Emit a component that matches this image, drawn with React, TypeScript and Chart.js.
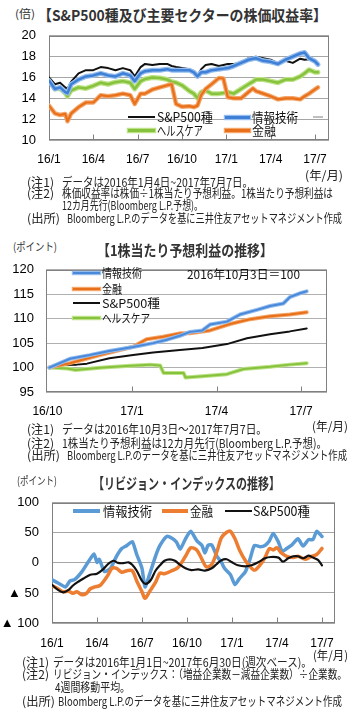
import React, { useEffect, useLayoutEffect, useRef } from "react";
import { Chart, registerables } from "chart.js";

Chart.register(...registerables);

const JP = "'Noto Sans CJK JP', 'Noto Sans', sans-serif";
const NUM = "'Liberation Sans', Arial, sans-serif";

// ---------- Chart 1: PER (倍) ----------
const perMonths = [0, 0.4, 0.75, 1.1, 1.25, 1.5, 2, 2.5, 3, 3.5, 4, 4.5, 5, 5.5, 5.8, 6.2, 6.5, 7, 7.5, 8, 8.3, 8.6, 9, 9.5, 9.8, 10.05, 10.3, 10.6, 11, 11.5, 11.8, 12.1, 12.5, 13, 13.5, 13.8, 14, 14.5, 15, 15.5, 16, 16.5, 17, 17.3, 17.6, 18, 18.2];
const perSP500 = [16.0, 15.35, 15.5, 15.05, 14.9, 15.6, 16.4, 16.7, 16.7, 17.0, 16.9, 16.7, 16.9, 16.7, 16.1, 17.0, 17.3, 17.2, 17.3, 17.3, 17.1, 17.0, 16.9, 16.8, 16.6, 16.2, 16.8, 17.2, 17.3, 17.1, 17.2, 17.3, 17.3, 17.4, 17.85, 17.95, 18.0, 17.85, 17.7, 17.35, 17.6, 17.4, 17.8, 17.7, 17.75, 17.55, 17.4];
const perTech = [15.7, 14.9, 15.05, 14.6, 14.5, 15.35, 15.8, 16.1, 16.2, 16.4, 16.2, 16.1, 16.4, 16.2, 15.65, 16.4, 16.6, 16.7, 16.7, 16.8, 16.7, 16.7, 16.7, 16.7, 16.5, 16.1, 16.5, 16.5, 16.7, 16.8, 16.85, 16.9, 17.1, 17.4, 17.7, 17.8, 17.85, 17.6, 17.5, 17.3, 17.7, 18.0, 18.3, 18.4, 17.85, 17.55, 17.25];
const perHealth = [15.8, 14.9, 14.95, 14.5, 14.2, 14.75, 15.05, 14.95, 15.2, 15.5, 15.35, 15.55, 15.65, 15.5, 14.9, 15.65, 15.85, 16.0, 15.95, 15.8, 15.6, 15.5, 15.25, 14.7, 14.45, 14.0, 14.6, 14.75, 14.45, 14.45, 14.5, 14.6, 14.45, 14.9, 15.35, 15.6, 15.8, 15.8, 15.65, 15.5, 15.8, 15.8, 16.1, 16.4, 16.75, 16.5, 16.5];
const perFin = [13.3, 12.55, 12.4, 12.5, 11.8, 12.55, 13.15, 13.6, 13.6, 14.3, 14.2, 14.3, 14.45, 14.3, 13.45, 14.45, 14.45, 14.85, 15.05, 15.25, 15.35, 13.45, 13.2, 13.25, 13.15, 13.3, 14.3, 14.9, 15.35, 15.95, 15.9, 14.1, 14.0, 14.0, 14.6, 14.95, 14.7, 14.45, 14.2, 13.9, 14.0, 14.0, 13.9, 14.2, 14.45, 14.85, 15.05];
const perTicks = [0, 3, 6, 9, 12, 15, 18];
const perTickLabels = ["16/1", "16/4", "16/7", "16/10", "17/1", "17/4", "17/7"];

// ---------- Chart 2: EPS index (2016/10/3 = 100) ----------
const epsTechT = [0.07, 0.8, 1.5, 2.2, 3.04, 3.75, 4.24, 4.7, 5.06, 5.5, 5.77, 6.37, 6.83, 7.43, 7.9, 8.37, 8.6, 8.96, 9.2];
const epsTech = [100, 101.8, 102.55, 103.4, 104.2, 105.0, 105.7, 106.5, 107.3, 107.6, 108.8, 109.4, 110.85, 111.8, 112.6, 113.1, 114.4, 115.2, 115.6];
const epsFinT = [0.07, 0.8, 1.15, 1.86, 2.57, 3.04, 3.52, 4.1, 4.7, 5.06, 5.77, 6.48, 7.2, 7.9, 8.6, 9.2];
const epsFin = [100, 100.9, 101.45, 102.55, 103.6, 104.25, 105.8, 106.3, 107.0, 107.0, 107.6, 108.9, 109.9, 110.5, 110.85, 111.3];
const epsSPT = [0.07, 0.5, 1.04, 1.4, 2.2, 3.04, 3.75, 4.7, 5.5, 6.37, 7.08, 7.9, 8.6, 9.2];
const epsSP = [100, 100.5, 100.6, 100.8, 101.9, 102.55, 103.1, 103.6, 104.0, 104.8, 106.0, 106.8, 107.4, 108.0];
const epsHealthT = [0.07, 0.7, 1.0, 1.86, 2.8, 3.64, 4.0, 4.12, 4.83, 4.9, 5.5, 6.37, 6.96, 7.9, 8.6, 9.2];
const epsHealth = [100, 99.8, 99.5, 99.95, 100.3, 100.6, 100.4, 98.9, 98.9, 97.95, 98.2, 98.65, 99.7, 100.15, 100.6, 100.9];
const epsTicks = [0, 3, 6, 9];
const epsTickLabels = ["16/10", "17/1", "17/4", "17/7"];

// ---------- Chart 3: Revision index ----------
const revTechT = [0, 0.4, 0.9, 1.2, 1.5, 2.0, 2.4, 2.8, 3.0, 3.15, 3.5, 3.9, 4.3, 4.65, 5.0, 5.35, 5.65, 6.0, 6.2, 6.5, 6.9, 7.2, 7.65, 8.0, 8.3, 8.55, 8.9, 9.25, 9.65, 10.0, 10.2, 10.4, 10.65, 11.0, 11.3, 11.5, 11.9, 12.2, 12.5, 12.9, 13.2, 13.5, 13.9, 14.2, 14.5, 14.75, 15.1, 15.35, 15.65, 16.0, 16.4, 16.75, 17.1, 17.4, 17.65, 18.0];
const revTech = [-28, -33.5, -40, -30, -28, -14.4, 1, 15, 1, 6, -14.4, -9, 11, 24, 29, 35.5, 14, -9, -40, -19.6, 11, 29, 44, 41, 34.5, 23, 40, 52.6, 37, 29, 16.5, 29, 30, 11, 1, -9, -19.6, -36, -26, -14.4, 6, 29, 27, 29, 37, 49, 34.5, 19, 24, 30, 40, 28, 38.7, 38.7, 52.6, 44];
const revFinT = [0, 0.4, 0.75, 1.1, 1.4, 1.65, 2.0, 2.3, 2.55, 2.85, 3.2, 3.55, 3.75, 4.0, 4.3, 4.65, 5.0, 5.35, 5.65, 6.0, 6.2, 6.5, 6.9, 7.2, 7.5, 8.0, 8.4, 8.9, 9.25, 9.65, 10.0, 10.3, 10.65, 11.0, 11.3, 11.65, 11.9, 12.2, 12.5, 12.9, 13.2, 13.5, 13.9, 14.2, 14.5, 14.75, 15.0, 15.3, 15.65, 16.1, 16.4, 16.9, 17.3, 17.65, 18.0];
const revFin = [-37.6, -43, -48, -47, -50.5, -48, -53, -50.5, -43, -40, -37.6, -27, -19.6, -9, -9, -15.5, -13, -13, -30, -48, -59, -48, -32.5, -17, -18, -13, -7.7, 11, 25, 21.6, 6, -6.7, -2.6, 19, 42, 51, 52.6, 40, 21.6, 3.6, -5.7, -12, -2.6, 8.8, 24, 21.6, 25, 16.5, 11, 8.8, 11, 6, 11, 14, 24];
const revSPT = [0, 0.4, 0.75, 1.1, 1.4, 1.75, 2.1, 2.55, 3.0, 3.4, 3.75, 4.1, 4.4, 4.75, 5.1, 5.35, 5.65, 6.0, 6.25, 6.6, 6.9, 7.2, 7.5, 7.85, 8.2, 8.5, 8.9, 9.3, 9.75, 10.2, 10.65, 11.0, 11.3, 11.65, 12.0, 12.4, 12.9, 13.3, 13.75, 14.2, 14.6, 15.1, 15.4, 15.75, 16.1, 16.4, 16.75, 17.1, 17.4, 17.75, 18.0];
const revSP = [-36.6, -45, -49, -45, -37.6, -31.4, -26, -19.6, -18, -10.8, -1.5, 3.6, 0, -0.5, 1, -3, -13, -30, -35, -28, -13, -4, 3.6, 6, 3.6, -2.6, -9, -12, -10.8, -13, -9, -1.5, 4.6, 6, 1, -4, -5.7, -4, 1, 7.7, 9.8, 8.8, 2, 7.7, 11, 11, 7.7, 12, 8.8, 4.6, -4];
const revTicks = [0, 3, 6, 9, 12, 15, 18];
const revTickLabels = ["16/1", "16/4", "16/7", "16/10", "17/1", "17/4", "17/7"];

type Series = { xs: number[]; ys: number[]; color: string; width: number; glow?: string; glowWidth?: number; tension?: number };
type Box = { x: number; y: number; w: number; h: number };
type Plot = { x1: number; y1: number; x2: number; y2: number };

function LineChart(props: {
  box: Box; plot: Plot; xMin: number; xMax: number; xTicks: number[]; xLabels: string[];
  yMin: number; yMax: number; yStep: number; yFmt: (v: number) => string;
  series: Series[]; xPad: number; yPad: number; gridColor: string;
}) {
  const ref = useRef<HTMLCanvasElement>(null);
  useEffect(() => {
    const p = props;
    const datasets: any[] = [];
    p.series.forEach((s) => {
      const data = s.xs.map((x, i) => ({ x, y: s.ys[i] }));
      datasets.push({ data, borderColor: s.color, borderWidth: s.width, pointRadius: 0, fill: false, tension: s.tension || 0, borderJoinStyle: "round", borderCapStyle: "round" });
      if (s.glow) datasets.push({ data, borderColor: s.glow, borderWidth: s.glowWidth, pointRadius: 0, fill: false, tension: s.tension || 0, borderJoinStyle: "round", borderCapStyle: "round" });
    });
    const yTickVals: number[] = [];
    for (let v = p.yMin; v <= p.yMax + 1e-9; v += p.yStep) yTickVals.push(v);
    const frame = {
      id: "frame",
      beforeDatasetsDraw(ch: any) {
        const { ctx, chartArea: a, scales } = ch;
        ctx.save();
        ctx.strokeStyle = "#808080";
        ctx.lineWidth = 1;
        const l = Math.round(a.left) + 0.5, t = Math.round(a.top) + 0.5;
        const r = Math.round(a.right) - 0.5, b = Math.round(a.bottom) - 0.5;
        ctx.strokeRect(l, t, r - l, b - t);
        ctx.beginPath();
        for (const v of p.xTicks) {
          const px = Math.round(scales.x.getPixelForValue(v)) + 0.5;
          if (px < a.left + 3 || px > a.right - 3) continue;
          ctx.moveTo(px, b);
          ctx.lineTo(px, b - 5);
        }
        ctx.stroke();
        ctx.restore();
      },
    };
    const chart = new Chart(ref.current as HTMLCanvasElement, {
      type: "line",
      data: { datasets },
      options: {
        animation: false,
        responsive: false,
        devicePixelRatio: 1,
        events: [],
        layout: { padding: { left: 0, top: p.plot.y1 - p.box.y, right: p.box.x + p.box.w - p.plot.x2, bottom: 0 } },
        plugins: { legend: { display: false }, tooltip: { enabled: false } },
        scales: {
          x: {
            type: "linear", min: p.xMin, max: p.xMax,
            afterBuildTicks: (s: any) => { s.ticks = p.xTicks.map((v) => ({ value: v })); },
            afterFit: (s: any) => { s.height = p.box.y + p.box.h - p.plot.y2; },
            grid: { display: false, drawTicks: false },
            border: { display: false },
            ticks: { autoSkip: false, maxRotation: 0, minRotation: 0, padding: p.xPad, color: "#000", font: { family: NUM, size: 12 }, callback: (_v: any, i: number) => p.xLabels[i] },
          },
          y: {
            type: "linear", min: p.yMin, max: p.yMax,
            afterBuildTicks: (s: any) => { s.ticks = yTickVals.map((v) => ({ value: v })); },
            afterFit: (s: any) => { s.width = p.plot.x1 - p.box.x; },
            grid: { color: p.gridColor, drawTicks: false, lineWidth: 1 },
            border: { display: false },
            ticks: { padding: p.yPad, color: "#000", font: { family: NUM, size: 13 }, callback: (v: any) => p.yFmt(Number(v)) },
          },
        },
      } as any,
      plugins: [frame],
    });
    return () => chart.destroy();
  }, []);
  const b = props.box;
  return <canvas ref={ref} width={b.w} height={b.h} style={{ position: "absolute", left: b.x, top: b.y, width: b.w, height: b.h }} />;
}

function FitText(props: { x: number; y: number; w?: number; text: string; size?: number; bold?: boolean; color?: string; family?: string }) {
  const { x, y, w, text, size = 12, bold = false, color = "#222", family = JP } = props;
  const ref = useRef<HTMLSpanElement>(null);
  useLayoutEffect(() => {
    const fit = () => {
      const el = ref.current;
      if (!el || !w) return;
      el.style.transform = "none";
      const nat = el.getBoundingClientRect().width;
      if (nat > 0) el.style.transform = `scaleX(${w / nat})`;
    };
    fit();
    if ((document as any).fonts && (document as any).fonts.ready) (document as any).fonts.ready.then(fit);
  }, [text, w, size]);
  return (
    <span ref={ref} style={{ position: "absolute", left: x, top: y - size * 0.6, fontSize: size, lineHeight: `${size * 1.2}px`, whiteSpace: "nowrap", transformOrigin: "0 0", fontWeight: bold ? 700 : 400, color, fontFamily: family }}>
      {text}
    </span>
  );
}

function LegLine(props: { x1: number; x2: number; y: number; color: string; width: number; glow?: string }) {
  const { x1, x2, y, color, width, glow } = props;
  return <div style={{ position: "absolute", left: x1, top: y - width / 2, width: x2 - x1, height: width, background: color, boxShadow: glow ? `0 0 0 1.2px ${glow}` : undefined }} />;
}

const BLUE1 = "#3F7FD6", BLUE1G = "#93BDEE";
const GREEN1 = "#86C23E", GREEN1G = "#BBE283";
const ORANGE1 = "#E8701A", ORANGE1G = "#F4A66B";

export default function App() {
  return (
    <div style={{ position: "absolute", left: 0, top: 0, width: 359, height: 712, background: "#fff", overflow: "hidden", fontFamily: JP }}>
      {/* ---------- Chart 1 ---------- */}
      <FitText x={15} y={14} w={20} text="(倍)" size={11} color="#333" />
      <FitText x={38} y={15} w={289} text="【S&P500種及び主要セクターの株価収益率】" size={15} bold color="#333" />
      <LineChart
        box={{ x: 0, y: 15, w: 359, h: 160 }}
        plot={{ x1: 49, y1: 27, x2: 329, y2: 140 }}
        xMin={0} xMax={18.95} xTicks={perTicks} xLabels={perTickLabels}
        yMin={10} yMax={20} yStep={2} yFmt={(v) => String(v)}
        xPad={12} yPad={13} gridColor="#A6A6A6"
        series={[
          { xs: perMonths, ys: perTech, color: BLUE1, width: 2.5, glow: BLUE1G, glowWidth: 5 },
          { xs: perMonths, ys: perSP500, color: "#111", width: 2 },
          { xs: perMonths, ys: perFin, color: ORANGE1, width: 2.2, glow: ORANGE1G, glowWidth: 4.5 },
          { xs: perMonths, ys: perHealth, color: GREEN1, width: 2.5, glow: GREEN1G, glowWidth: 5 },
        ]}
      />
      <LegLine x1={128} x2={155} y={117} color="#111" width={2} />
      <FitText x={157} y={117} w={56} text="S&P500種" size={13} color="#111" />
      <LegLine x1={225} x2={250} y={117} color={BLUE1} width={3} glow={BLUE1G} />
      <FitText x={252} y={117} w={46} text="情報技術" size={13} color="#111" />
      <LegLine x1={313} x2={323} y={117} color="#BFBFBF" width={1.5} />
      <LegLine x1={128} x2={155} y={130} color={GREEN1} width={3} glow={GREEN1G} />
      <FitText x={157} y={130} w={46} text="ヘルスケア" size={13} color="#111" />
      <LegLine x1={225} x2={250} y={130} color={ORANGE1} width={3} glow={ORANGE1G} />
      <FitText x={252} y={130} w={24} text="金融" size={13} color="#111" />
      <FitText x={305} y={175} w={38} text="(年/月)" size={12} color="#222" />
      <FitText x={27} y={182} w={27} text="(注1)" size={12} />
      <FitText x={62} y={182} w={191} text="データは2016年1月4日~2017年7月7日。" size={12} />
      <FitText x={27} y={193} w={27} text="(注2)" size={12} />
      <FitText x={62} y={193} w={271} text="株価収益率は株価÷1株当たり予想利益。1株当たり予想利益は" size={12} />
      <FitText x={62} y={205} w={141} text="12カ月先行(Bloomberg L.P.予想)。" size={12} />
      <FitText x={27} y={218} w={33} text="(出所)" size={12} />
      <FitText x={67} y={218} w={275} text="Bloomberg L.P.のデータを基に三井住友アセットマネジメント作成" size={12} />

      {/* ---------- Chart 2 ---------- */}
      <FitText x={13} y={247} w={44} text="(ポイント)" size={11} color="#333" />
      <FitText x={97} y={250} w={176} text="【1株当たり予想利益の推移】" size={15} bold color="#333" />
      <LineChart
        box={{ x: 0, y: 250, w: 359, h: 170 }}
        plot={{ x1: 46, y1: 263, x2: 327, y2: 392 }}
        xMin={-0.05} xMax={9.92} xTicks={epsTicks} xLabels={epsTickLabels}
        yMin={95} yMax={120} yStep={5} yFmt={(v) => String(v)}
        xPad={12} yPad={12} gridColor="#B0B0B0"
        series={[
          { xs: epsTechT, ys: epsTech, color: "#4A88DA", width: 2, glow: "#93BDEE", glowWidth: 4 },
          { xs: epsFinT, ys: epsFin, color: "#E8701A", width: 2, glow: "#F4A66B", glowWidth: 4 },
          { xs: epsSPT, ys: epsSP, color: "#111", width: 2 },
          { xs: epsHealthT, ys: epsHealth, color: "#86C23E", width: 2, glow: "#BBE283", glowWidth: 4 },
        ]}
      />
      <LegLine x1={73} x2={100} y={273} color="#4A88DA" width={2.5} glow="#93BDEE" />
      <FitText x={102} y={273} w={40} text="情報技術" size={12} color="#111" />
      <LegLine x1={73} x2={100} y={289} color="#E8701A" width={2.5} glow="#F4A66B" />
      <FitText x={102} y={289} w={20} text="金融" size={12} color="#111" />
      <LegLine x1={73} x2={100} y={303} color="#111" width={2} />
      <FitText x={102} y={303} w={58} text="S&P500種" size={12} color="#111" />
      <LegLine x1={73} x2={100} y={318} color="#86C23E" width={2.5} glow="#BBE283" />
      <FitText x={102} y={318} w={48} text="ヘルスケア" size={12} color="#111" />
      <FitText x={187} y={274} w={113} text="2016年10月3日＝100" size={12} color="#111" />
      <FitText x={312} y={426} w={36} text="(年/月)" size={12} />
      <FitText x={27} y={429} w={27} text="(注1)" size={12} />
      <FitText x={62} y={429} w={205} text="データは2016年10月3日～2017年7月7日。" size={12} />
      <FitText x={27} y={443} w={27} text="(注2)" size={12} />
      <FitText x={62} y={443} w={265} text="1株当たり予想利益は12カ月先行(Bloomberg L.P.予想)。" size={12} />
      <FitText x={27} y={455} w={33} text="(出所)" size={12} />
      <FitText x={67} y={455} w={280} text="Bloomberg L.P.のデータを基に三井住友アセットマネジメント作成" size={12} />

      {/* ---------- Chart 3 ---------- */}
      <FitText x={17} y={481} w={40} text="(ポイント)" size={11} color="#333" />
      <FitText x={93} y={483} w={187} text="【リビジョン・インデックスの推移】" size={15} bold color="#333" />
      <LineChart
        box={{ x: 0, y: 482, w: 359, h: 165 }}
        plot={{ x1: 52, y1: 495, x2: 335, y2: 623 }}
        xMin={0} xMax={18.87} xTicks={revTicks} xLabels={revTickLabels}
        yMin={-100} yMax={100} yStep={50} yFmt={(v) => (v < 0 ? `▲ ${-v}` : String(v))}
        xPad={13} yPad={13} gridColor="#A6A6A6"
        series={[
          { xs: revSPT, ys: revSP, color: "#111", width: 2.2, tension: 0.3 },
          { xs: revFinT, ys: revFin, color: "#ED7D31", width: 3.5, tension: 0.3 },
          { xs: revTechT, ys: revTech, color: "#5B9BD5", width: 3.5, tension: 0.2 },
        ]}
      />
      <LegLine x1={73} x2={100} y={511} color="#5B9BD5" width={3.5} />
      <FitText x={103} y={511} w={49} text="情報技術" size={13} color="#111" />
      <LegLine x1={162} x2={188} y={511} color="#ED7D31" width={3.5} />
      <FitText x={190} y={511} w={23} text="金融" size={13} color="#111" />
      <LegLine x1={225} x2={252} y={511} color="#111" width={2} />
      <FitText x={253} y={511} w={57} text="S&P500種" size={13} color="#111" />
      <FitText x={313} y={655} w={35} text="(年/月)" size={12} />
      <FitText x={22} y={662} w={27} text="(注1)" size={12} />
      <FitText x={53} y={662} w={259} text="データは2016年1月1日~2017年6月30日(週次ベース)。" size={12} />
      <FitText x={22} y={674} w={27} text="(注2)" size={12} />
      <FitText x={53} y={674} w={294} text="リビジョン・インデックス：（増益企業数－減益企業数）÷企業数。" size={12} />
      <FitText x={55} y={687} w={75} text="4週間移動平均。" size={12} />
      <FitText x={22} y={701} w={33} text="(出所)" size={12} />
      <FitText x={58} y={701} w={284} text="Bloomberg L.P.のデータを基に三井住友アセットマネジメント作成" size={12} />
    </div>
  );
}
